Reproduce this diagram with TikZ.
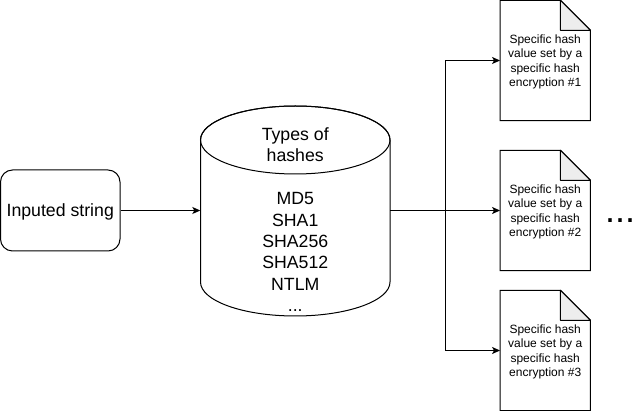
\documentclass[tikz,border=0pt]{standalone}
\usepackage{fontspec}
\setmainfont{Liberation Sans}
\usetikzlibrary{arrows.meta,calc}
\tikzset{
  line/.style={line width=1pt, draw=black},
  arr/.style={line, -{Stealth[length=8pt,width=7pt,inset=2pt]}},
  bigtxt/.style={font=\fontsize{17.7}{21.3}\selectfont, align=center, inner sep=0pt},
  doctxt/.style={font=\fontsize{12}{14.4}\selectfont, align=center, inner sep=0pt},
  docbox/.style={minimum width=90pt, minimum height=120pt, inner sep=0pt},
  foldfill/.style={fill=black!7}
}
\begin{document}
\begin{tikzpicture}[x=1pt,y=-1pt]
\useasboundingbox (0,0) rectangle (641,411);

% input box
\node[line, rounded corners=12pt, minimum width=119.5pt, minimum height=81pt, inner sep=0pt] (in) at (60.25,210.5) {};
\node[bigtxt, anchor=base] (intxt) at (60.25,216.5) {Inputed string};

% cylinder
\node[minimum width=189.5pt, minimum height=210pt, inner sep=0pt] (cyl) at (295.25,210.5) {};
\draw[line, fill=white] (200.5,140) -- (200.5,282) arc[start angle=180, end angle=360, x radius=94.75pt, y radius=34pt] -- (390,140) arc[start angle=0, end angle=180, x radius=94.75pt, y radius=34pt] -- cycle;
\draw[line] (295.25,140) ellipse[x radius=94.75pt, y radius=34pt];
\node[bigtxt, anchor=base] (cyltop) at (295.25,162) {Types of\\hashes};
\node[bigtxt, anchor=base] (cyllist) at (295.25,311.5) {MD5\\SHA1\\SHA256\\SHA512\\NTLM\\...};

% documents
\node[docbox] (d1) at (545.25,60.5) {};
\node[docbox] (d2) at (545.25,210.5) {};
\node[docbox] (d3) at (545.25,350.5) {};
\foreach \d in {d1,d2,d3}{
  \draw[line, fill=white] (\d.north west) -- ([xshift=-30pt]\d.north east) -- ([yshift=-30pt]\d.north east) -- (\d.south east) -- (\d.south west) -- cycle;
  \draw[line, foldfill, line join=round] ([xshift=-30pt]\d.north east) -- ([xshift=-30pt,yshift=-30pt]\d.north east) -- ([yshift=-30pt]\d.north east) -- cycle;
}
\node[doctxt, anchor=base] (t1) at (545.25,86.7) {Specific hash\\value set by a\\specific hash\\encryption \#1};
\node[doctxt, anchor=base] (t2) at (545.25,236.7) {Specific hash\\value set by a\\specific hash\\encryption \#2};
\node[doctxt, anchor=base] (t3) at (545.25,376.7) {Specific hash\\value set by a\\specific hash\\encryption \#3};

\node[font=\fontsize{36}{40}\selectfont, inner sep=0pt, anchor=base west] (dots) at (605,222.7) {...};

% connectors
\coordinate (j) at (445.5,210.5);
\draw[arr] (in.east) -- (cyl.west);
\draw[arr] (cyl.east) -- (j) |- (d1.west);
\draw[arr] (j) -- (d2.west);
\draw[arr] (j) |- (d3.west);
\end{tikzpicture}
\end{document}
